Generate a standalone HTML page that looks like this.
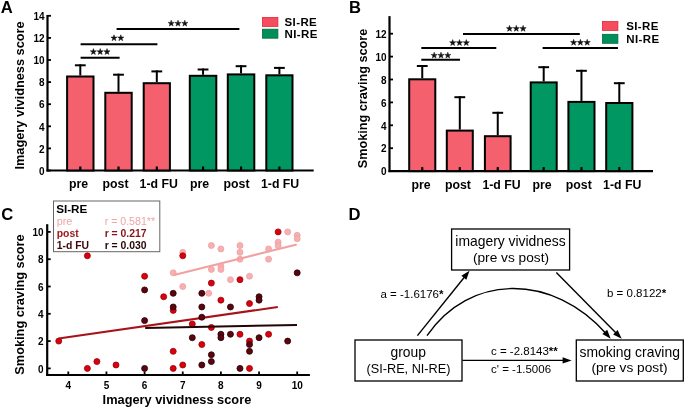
<!DOCTYPE html>
<html><head><meta charset="utf-8"><style>
html,body{margin:0;padding:0;background:#fff;}
body{width:685px;height:407px;overflow:hidden;}
svg{display:block;font-family:"Liberation Sans",sans-serif;will-change:transform;}
</style></head><body>
<svg width="685" height="407" viewBox="0 0 685 407">
<rect width="685" height="407" fill="#fff"/>
<text x="0.70" y="12.80" font-size="16.60" font-weight="bold" text-anchor="start" fill="#000">A</text>
<text transform="translate(23.90,95.50) rotate(-90)" font-size="12.75" font-weight="bold" text-anchor="middle">Imagery vividness score</text>
<line x1="47.50" y1="15.00" x2="47.50" y2="171.50" stroke="#000" stroke-width="2.20"/>
<line x1="47.50" y1="170.50" x2="51.00" y2="170.50" stroke="#000" stroke-width="1.80"/>
<text x="44.60" y="174.70" font-size="10.00" font-weight="bold" text-anchor="end" fill="#000">0</text>
<line x1="47.50" y1="148.40" x2="51.00" y2="148.40" stroke="#000" stroke-width="1.80"/>
<text x="44.60" y="152.60" font-size="10.00" font-weight="bold" text-anchor="end" fill="#000">2</text>
<line x1="47.50" y1="126.30" x2="51.00" y2="126.30" stroke="#000" stroke-width="1.80"/>
<text x="44.60" y="130.50" font-size="10.00" font-weight="bold" text-anchor="end" fill="#000">4</text>
<line x1="47.50" y1="104.20" x2="51.00" y2="104.20" stroke="#000" stroke-width="1.80"/>
<text x="44.60" y="108.40" font-size="10.00" font-weight="bold" text-anchor="end" fill="#000">6</text>
<line x1="47.50" y1="82.10" x2="51.00" y2="82.10" stroke="#000" stroke-width="1.80"/>
<text x="44.60" y="86.30" font-size="10.00" font-weight="bold" text-anchor="end" fill="#000">8</text>
<line x1="47.50" y1="60.00" x2="51.00" y2="60.00" stroke="#000" stroke-width="1.80"/>
<text x="44.60" y="64.20" font-size="10.00" font-weight="bold" text-anchor="end" fill="#000">10</text>
<line x1="47.50" y1="37.90" x2="51.00" y2="37.90" stroke="#000" stroke-width="1.80"/>
<text x="44.60" y="42.10" font-size="10.00" font-weight="bold" text-anchor="end" fill="#000">12</text>
<line x1="47.50" y1="15.80" x2="51.00" y2="15.80" stroke="#000" stroke-width="1.80"/>
<text x="44.60" y="20.00" font-size="10.00" font-weight="bold" text-anchor="end" fill="#000">14</text>
<line x1="46.50" y1="170.50" x2="313.70" y2="170.50" stroke="#000" stroke-width="2.20"/>
<line x1="80.30" y1="75.50" x2="80.30" y2="64.30" stroke="#000" stroke-width="2.00"/><line x1="74.90" y1="65.30" x2="85.70" y2="65.30" stroke="#000" stroke-width="2.00"/><rect x="67.10" y="76.50" width="26.40" height="94.00" fill="#F5606E" stroke="#000" stroke-width="2"/><line x1="80.30" y1="166.50" x2="80.30" y2="170.50" stroke="#000" stroke-width="2.20"/>
<line x1="118.50" y1="91.80" x2="118.50" y2="73.70" stroke="#000" stroke-width="2.00"/><line x1="113.10" y1="74.70" x2="123.90" y2="74.70" stroke="#000" stroke-width="2.00"/><rect x="105.30" y="92.80" width="26.40" height="77.70" fill="#F5606E" stroke="#000" stroke-width="2"/><line x1="118.50" y1="166.50" x2="118.50" y2="170.50" stroke="#000" stroke-width="2.20"/>
<line x1="156.80" y1="82.20" x2="156.80" y2="70.40" stroke="#000" stroke-width="2.00"/><line x1="151.40" y1="71.40" x2="162.20" y2="71.40" stroke="#000" stroke-width="2.00"/><rect x="143.70" y="83.20" width="26.20" height="87.30" fill="#F5606E" stroke="#000" stroke-width="2"/><line x1="156.80" y1="166.50" x2="156.80" y2="170.50" stroke="#000" stroke-width="2.20"/>
<line x1="203.05" y1="74.80" x2="203.05" y2="68.50" stroke="#000" stroke-width="2.00"/><line x1="197.65" y1="69.50" x2="208.45" y2="69.50" stroke="#000" stroke-width="2.00"/><rect x="189.80" y="75.80" width="26.50" height="94.70" fill="#009762" stroke="#000" stroke-width="2"/><line x1="203.05" y1="166.50" x2="203.05" y2="170.50" stroke="#000" stroke-width="2.20"/>
<line x1="241.05" y1="73.40" x2="241.05" y2="65.20" stroke="#000" stroke-width="2.00"/><line x1="235.65" y1="66.20" x2="246.45" y2="66.20" stroke="#000" stroke-width="2.00"/><rect x="227.80" y="74.40" width="26.50" height="96.10" fill="#009762" stroke="#000" stroke-width="2"/><line x1="241.05" y1="166.50" x2="241.05" y2="170.50" stroke="#000" stroke-width="2.20"/>
<line x1="279.40" y1="74.30" x2="279.40" y2="66.90" stroke="#000" stroke-width="2.00"/><line x1="274.00" y1="67.90" x2="284.80" y2="67.90" stroke="#000" stroke-width="2.00"/><rect x="266.30" y="75.30" width="26.20" height="95.20" fill="#009762" stroke="#000" stroke-width="2"/><line x1="279.40" y1="166.50" x2="279.40" y2="170.50" stroke="#000" stroke-width="2.20"/>
<text x="69.00" y="188.40" font-size="12.30" font-weight="bold" text-anchor="start" fill="#000">pre</text>
<text x="102.60" y="188.40" font-size="12.30" font-weight="bold" text-anchor="start" fill="#000">post</text>
<text x="139.60" y="188.40" font-size="12.30" font-weight="bold" text-anchor="start" fill="#000">1-d FU</text>
<text x="190.00" y="188.40" font-size="12.30" font-weight="bold" text-anchor="start" fill="#000">pre</text>
<text x="223.60" y="188.40" font-size="12.30" font-weight="bold" text-anchor="start" fill="#000">post</text>
<text x="261.00" y="188.40" font-size="12.30" font-weight="bold" text-anchor="start" fill="#000">1-d FU</text>
<line x1="116.60" y1="29.00" x2="239.40" y2="29.00" stroke="#000" stroke-width="2.00"/>
<polygon points="171.20,20.20 171.96,22.40 174.29,22.45 172.44,23.85 173.11,26.08 171.20,24.75 169.29,26.08 169.96,23.85 168.11,22.45 170.44,22.40" fill="#111" stroke="#111" stroke-width="0.5" stroke-linejoin="round"/><polygon points="178.00,20.20 178.76,22.40 181.09,22.45 179.24,23.85 179.91,26.08 178.00,24.75 176.09,26.08 176.76,23.85 174.91,22.45 177.24,22.40" fill="#111" stroke="#111" stroke-width="0.5" stroke-linejoin="round"/><polygon points="184.80,20.20 185.56,22.40 187.89,22.45 186.04,23.85 186.71,26.08 184.80,24.75 182.89,26.08 183.56,23.85 181.71,22.45 184.04,22.40" fill="#111" stroke="#111" stroke-width="0.5" stroke-linejoin="round"/>
<line x1="80.60" y1="44.20" x2="157.40" y2="44.20" stroke="#000" stroke-width="2.00"/>
<polygon points="114.00,34.80 114.76,37.00 117.09,37.05 115.24,38.45 115.91,40.68 114.00,39.35 112.09,40.68 112.76,38.45 110.91,37.05 113.24,37.00" fill="#111" stroke="#111" stroke-width="0.5" stroke-linejoin="round"/><polygon points="120.80,34.80 121.56,37.00 123.89,37.05 122.04,38.45 122.71,40.68 120.80,39.35 118.89,40.68 119.56,38.45 117.71,37.05 120.04,37.00" fill="#111" stroke="#111" stroke-width="0.5" stroke-linejoin="round"/>
<line x1="80.60" y1="57.80" x2="119.60" y2="57.80" stroke="#000" stroke-width="2.00"/>
<polygon points="93.40,48.60 94.16,50.80 96.49,50.85 94.64,52.25 95.31,54.48 93.40,53.15 91.49,54.48 92.16,52.25 90.31,50.85 92.64,50.80" fill="#111" stroke="#111" stroke-width="0.5" stroke-linejoin="round"/><polygon points="100.20,48.60 100.96,50.80 103.29,50.85 101.44,52.25 102.11,54.48 100.20,53.15 98.29,54.48 98.96,52.25 97.11,50.85 99.44,50.80" fill="#111" stroke="#111" stroke-width="0.5" stroke-linejoin="round"/><polygon points="107.00,48.60 107.76,50.80 110.09,50.85 108.24,52.25 108.91,54.48 107.00,53.15 105.09,54.48 105.76,52.25 103.91,50.85 106.24,50.80" fill="#111" stroke="#111" stroke-width="0.5" stroke-linejoin="round"/>
<rect x="262.40" y="17.40" width="15.50" height="9.00" fill="#F54C5E" stroke="#E0283E" stroke-width="0.8"/><rect x="262.40" y="29.20" width="15.50" height="9.00" fill="#008F5A" stroke="#006A40" stroke-width="0.8"/><text x="284.50" y="25.80" font-size="11.50" font-weight="bold" text-anchor="start" fill="#000" letter-spacing="0.4">SI-RE</text><text x="284.50" y="38.30" font-size="11.50" font-weight="bold" text-anchor="start" fill="#000" letter-spacing="0.4">NI-RE</text>
<text x="348.90" y="12.80" font-size="16.60" font-weight="bold" text-anchor="start" fill="#000">B</text>
<text transform="translate(366.50,98.50) rotate(-90)" font-size="12.70" font-weight="bold" text-anchor="middle">Smoking craving score</text>
<line x1="389.50" y1="16.10" x2="389.50" y2="172.10" stroke="#000" stroke-width="2.20"/>
<line x1="389.50" y1="171.10" x2="393.00" y2="171.10" stroke="#000" stroke-width="1.80"/>
<text x="386.60" y="175.30" font-size="10.00" font-weight="bold" text-anchor="end" fill="#000">0</text>
<line x1="389.50" y1="148.20" x2="393.00" y2="148.20" stroke="#000" stroke-width="1.80"/>
<text x="386.60" y="152.40" font-size="10.00" font-weight="bold" text-anchor="end" fill="#000">2</text>
<line x1="389.50" y1="125.30" x2="393.00" y2="125.30" stroke="#000" stroke-width="1.80"/>
<text x="386.60" y="129.50" font-size="10.00" font-weight="bold" text-anchor="end" fill="#000">4</text>
<line x1="389.50" y1="102.40" x2="393.00" y2="102.40" stroke="#000" stroke-width="1.80"/>
<text x="386.60" y="106.60" font-size="10.00" font-weight="bold" text-anchor="end" fill="#000">6</text>
<line x1="389.50" y1="79.50" x2="393.00" y2="79.50" stroke="#000" stroke-width="1.80"/>
<text x="386.60" y="83.70" font-size="10.00" font-weight="bold" text-anchor="end" fill="#000">8</text>
<line x1="389.50" y1="56.60" x2="393.00" y2="56.60" stroke="#000" stroke-width="1.80"/>
<text x="386.60" y="60.80" font-size="10.00" font-weight="bold" text-anchor="end" fill="#000">10</text>
<line x1="389.50" y1="33.70" x2="393.00" y2="33.70" stroke="#000" stroke-width="1.80"/>
<text x="386.60" y="37.90" font-size="10.00" font-weight="bold" text-anchor="end" fill="#000">12</text>
<line x1="388.50" y1="171.10" x2="653.00" y2="171.10" stroke="#000" stroke-width="2.20"/>
<line x1="422.25" y1="78.30" x2="422.25" y2="65.00" stroke="#000" stroke-width="2.00"/><line x1="416.85" y1="66.00" x2="427.65" y2="66.00" stroke="#000" stroke-width="2.00"/><rect x="409.20" y="79.30" width="26.10" height="91.80" fill="#F5606E" stroke="#000" stroke-width="2"/><line x1="422.25" y1="167.10" x2="422.25" y2="171.10" stroke="#000" stroke-width="2.20"/>
<line x1="459.80" y1="129.60" x2="459.80" y2="96.20" stroke="#000" stroke-width="2.00"/><line x1="454.40" y1="97.20" x2="465.20" y2="97.20" stroke="#000" stroke-width="2.00"/><rect x="446.80" y="130.60" width="26.00" height="40.50" fill="#F5606E" stroke="#000" stroke-width="2"/><line x1="459.80" y1="167.10" x2="459.80" y2="171.10" stroke="#000" stroke-width="2.20"/>
<line x1="497.75" y1="135.20" x2="497.75" y2="111.80" stroke="#000" stroke-width="2.00"/><line x1="492.35" y1="112.80" x2="503.15" y2="112.80" stroke="#000" stroke-width="2.00"/><rect x="484.90" y="136.20" width="25.70" height="34.90" fill="#F5606E" stroke="#000" stroke-width="2"/><line x1="497.75" y1="167.10" x2="497.75" y2="171.10" stroke="#000" stroke-width="2.20"/>
<line x1="543.70" y1="81.40" x2="543.70" y2="66.20" stroke="#000" stroke-width="2.00"/><line x1="538.30" y1="67.20" x2="549.10" y2="67.20" stroke="#000" stroke-width="2.00"/><rect x="530.70" y="82.40" width="26.00" height="88.70" fill="#009762" stroke="#000" stroke-width="2"/><line x1="543.70" y1="167.10" x2="543.70" y2="171.10" stroke="#000" stroke-width="2.20"/>
<line x1="581.45" y1="100.90" x2="581.45" y2="69.80" stroke="#000" stroke-width="2.00"/><line x1="576.05" y1="70.80" x2="586.85" y2="70.80" stroke="#000" stroke-width="2.00"/><rect x="568.40" y="101.90" width="26.10" height="69.20" fill="#009762" stroke="#000" stroke-width="2"/><line x1="581.45" y1="167.10" x2="581.45" y2="171.10" stroke="#000" stroke-width="2.20"/>
<line x1="619.30" y1="102.00" x2="619.30" y2="82.20" stroke="#000" stroke-width="2.00"/><line x1="613.90" y1="83.20" x2="624.70" y2="83.20" stroke="#000" stroke-width="2.00"/><rect x="606.20" y="103.00" width="26.20" height="68.10" fill="#009762" stroke="#000" stroke-width="2"/><line x1="619.30" y1="167.10" x2="619.30" y2="171.10" stroke="#000" stroke-width="2.20"/>
<text x="411.40" y="188.60" font-size="12.30" font-weight="bold" text-anchor="start" fill="#000">pre</text>
<text x="445.00" y="188.60" font-size="12.30" font-weight="bold" text-anchor="start" fill="#000">post</text>
<text x="482.40" y="188.60" font-size="12.30" font-weight="bold" text-anchor="start" fill="#000">1-d FU</text>
<text x="532.50" y="188.60" font-size="12.30" font-weight="bold" text-anchor="start" fill="#000">pre</text>
<text x="565.80" y="188.60" font-size="12.30" font-weight="bold" text-anchor="start" fill="#000">post</text>
<text x="603.10" y="188.60" font-size="12.30" font-weight="bold" text-anchor="start" fill="#000">1-d FU</text>
<line x1="463.00" y1="34.00" x2="579.80" y2="34.00" stroke="#000" stroke-width="2.00"/>
<polygon points="509.50,25.40 510.26,27.60 512.59,27.65 510.74,29.05 511.41,31.28 509.50,29.95 507.59,31.28 508.26,29.05 506.41,27.65 508.74,27.60" fill="#111" stroke="#111" stroke-width="0.5" stroke-linejoin="round"/><polygon points="516.30,25.40 517.06,27.60 519.39,27.65 517.54,29.05 518.21,31.28 516.30,29.95 514.39,31.28 515.06,29.05 513.21,27.65 515.54,27.60" fill="#111" stroke="#111" stroke-width="0.5" stroke-linejoin="round"/><polygon points="523.10,25.40 523.86,27.60 526.19,27.65 524.34,29.05 525.01,31.28 523.10,29.95 521.19,31.28 521.86,29.05 520.01,27.65 522.34,27.60" fill="#111" stroke="#111" stroke-width="0.5" stroke-linejoin="round"/>
<line x1="421.30" y1="48.00" x2="496.30" y2="48.00" stroke="#000" stroke-width="2.00"/>
<polygon points="452.70,39.60 453.46,41.80 455.79,41.85 453.94,43.25 454.61,45.48 452.70,44.15 450.79,45.48 451.46,43.25 449.61,41.85 451.94,41.80" fill="#111" stroke="#111" stroke-width="0.5" stroke-linejoin="round"/><polygon points="459.50,39.60 460.26,41.80 462.59,41.85 460.74,43.25 461.41,45.48 459.50,44.15 457.59,45.48 458.26,43.25 456.41,41.85 458.74,41.80" fill="#111" stroke="#111" stroke-width="0.5" stroke-linejoin="round"/><polygon points="466.30,39.60 467.06,41.80 469.39,41.85 467.54,43.25 468.21,45.48 466.30,44.15 464.39,45.48 465.06,43.25 463.21,41.85 465.54,41.80" fill="#111" stroke="#111" stroke-width="0.5" stroke-linejoin="round"/>
<line x1="421.30" y1="59.80" x2="460.00" y2="59.80" stroke="#000" stroke-width="2.00"/>
<polygon points="434.20,52.20 434.96,54.40 437.29,54.45 435.44,55.85 436.11,58.08 434.20,56.75 432.29,58.08 432.96,55.85 431.11,54.45 433.44,54.40" fill="#111" stroke="#111" stroke-width="0.5" stroke-linejoin="round"/><polygon points="441.00,52.20 441.76,54.40 444.09,54.45 442.24,55.85 442.91,58.08 441.00,56.75 439.09,58.08 439.76,55.85 437.91,54.45 440.24,54.40" fill="#111" stroke="#111" stroke-width="0.5" stroke-linejoin="round"/><polygon points="447.80,52.20 448.56,54.40 450.89,54.45 449.04,55.85 449.71,58.08 447.80,56.75 445.89,58.08 446.56,55.85 444.71,54.45 447.04,54.40" fill="#111" stroke="#111" stroke-width="0.5" stroke-linejoin="round"/>
<line x1="542.60" y1="48.00" x2="618.00" y2="48.00" stroke="#000" stroke-width="2.00"/>
<polygon points="573.60,39.30 574.36,41.50 576.69,41.55 574.84,42.95 575.51,45.18 573.60,43.85 571.69,45.18 572.36,42.95 570.51,41.55 572.84,41.50" fill="#111" stroke="#111" stroke-width="0.5" stroke-linejoin="round"/><polygon points="580.40,39.30 581.16,41.50 583.49,41.55 581.64,42.95 582.31,45.18 580.40,43.85 578.49,45.18 579.16,42.95 577.31,41.55 579.64,41.50" fill="#111" stroke="#111" stroke-width="0.5" stroke-linejoin="round"/><polygon points="587.20,39.30 587.96,41.50 590.29,41.55 588.44,42.95 589.11,45.18 587.20,43.85 585.29,45.18 585.96,42.95 584.11,41.55 586.44,41.50" fill="#111" stroke="#111" stroke-width="0.5" stroke-linejoin="round"/>
<rect x="602.40" y="21.50" width="15.50" height="9.00" fill="#F54C5E" stroke="#E0283E" stroke-width="0.8"/><rect x="602.40" y="34.30" width="15.50" height="9.00" fill="#008F5A" stroke="#006A40" stroke-width="0.8"/><text x="626.20" y="29.80" font-size="11.50" font-weight="bold" text-anchor="start" fill="#000" letter-spacing="0.4">SI-RE</text><text x="626.20" y="42.50" font-size="11.50" font-weight="bold" text-anchor="start" fill="#000" letter-spacing="0.4">NI-RE</text>
<text x="1.20" y="220.00" font-size="16.60" font-weight="bold" text-anchor="start" fill="#000">C</text>
<text transform="translate(24.00,304.50) rotate(-90)" font-size="12.75" font-weight="bold" text-anchor="middle">Smoking craving score</text>
<line x1="47.20" y1="224.20" x2="47.20" y2="376.00" stroke="#000" stroke-width="2.20"/>
<line x1="47.20" y1="368.40" x2="50.70" y2="368.40" stroke="#000" stroke-width="1.80"/>
<text x="43.60" y="372.60" font-size="10.00" font-weight="bold" text-anchor="end" fill="#000">0</text>
<line x1="47.20" y1="341.10" x2="50.70" y2="341.10" stroke="#000" stroke-width="1.80"/>
<text x="43.60" y="345.30" font-size="10.00" font-weight="bold" text-anchor="end" fill="#000">2</text>
<line x1="47.20" y1="313.80" x2="50.70" y2="313.80" stroke="#000" stroke-width="1.80"/>
<text x="43.60" y="318.00" font-size="10.00" font-weight="bold" text-anchor="end" fill="#000">4</text>
<line x1="47.20" y1="286.50" x2="50.70" y2="286.50" stroke="#000" stroke-width="1.80"/>
<text x="43.60" y="290.70" font-size="10.00" font-weight="bold" text-anchor="end" fill="#000">6</text>
<line x1="47.20" y1="259.20" x2="50.70" y2="259.20" stroke="#000" stroke-width="1.80"/>
<text x="43.60" y="263.40" font-size="10.00" font-weight="bold" text-anchor="end" fill="#000">8</text>
<line x1="47.20" y1="231.90" x2="50.70" y2="231.90" stroke="#000" stroke-width="1.80"/>
<text x="43.60" y="236.10" font-size="10.00" font-weight="bold" text-anchor="end" fill="#000">10</text>
<line x1="46.20" y1="375.00" x2="309.90" y2="375.00" stroke="#000" stroke-width="2.20"/>
<line x1="68.30" y1="371.50" x2="68.30" y2="375.00" stroke="#000" stroke-width="1.80"/>
<text x="68.30" y="388.80" font-size="10.00" font-weight="bold" text-anchor="middle" fill="#000">4</text>
<line x1="106.45" y1="371.50" x2="106.45" y2="375.00" stroke="#000" stroke-width="1.80"/>
<text x="106.45" y="388.80" font-size="10.00" font-weight="bold" text-anchor="middle" fill="#000">5</text>
<line x1="144.60" y1="371.50" x2="144.60" y2="375.00" stroke="#000" stroke-width="1.80"/>
<text x="144.60" y="388.80" font-size="10.00" font-weight="bold" text-anchor="middle" fill="#000">6</text>
<line x1="182.75" y1="371.50" x2="182.75" y2="375.00" stroke="#000" stroke-width="1.80"/>
<text x="182.75" y="388.80" font-size="10.00" font-weight="bold" text-anchor="middle" fill="#000">7</text>
<line x1="220.90" y1="371.50" x2="220.90" y2="375.00" stroke="#000" stroke-width="1.80"/>
<text x="220.90" y="388.80" font-size="10.00" font-weight="bold" text-anchor="middle" fill="#000">8</text>
<line x1="259.05" y1="371.50" x2="259.05" y2="375.00" stroke="#000" stroke-width="1.80"/>
<text x="259.05" y="388.80" font-size="10.00" font-weight="bold" text-anchor="middle" fill="#000">9</text>
<line x1="297.20" y1="371.50" x2="297.20" y2="375.00" stroke="#000" stroke-width="1.80"/>
<text x="297.20" y="388.80" font-size="10.00" font-weight="bold" text-anchor="middle" fill="#000">10</text>
<text x="102.60" y="403.70" font-size="12.80" font-weight="bold" text-anchor="start" fill="#000">Imagery vividness score</text>
<circle cx="182.75" cy="252.37" r="3.0" fill="#F6B0B2" stroke="#EFA0A4" stroke-width="0.8"/><circle cx="211.36" cy="245.55" r="3.0" fill="#F6B0B2" stroke="#EFA0A4" stroke-width="0.8"/><circle cx="220.90" cy="248.96" r="3.0" fill="#F6B0B2" stroke="#EFA0A4" stroke-width="0.8"/><circle cx="173.21" cy="272.85" r="3.0" fill="#F6B0B2" stroke="#EFA0A4" stroke-width="0.8"/><circle cx="211.36" cy="269.44" r="3.0" fill="#F6B0B2" stroke="#EFA0A4" stroke-width="0.8"/><circle cx="220.90" cy="266.02" r="3.0" fill="#F6B0B2" stroke="#EFA0A4" stroke-width="0.8"/><circle cx="220.90" cy="269.44" r="3.0" fill="#F6B0B2" stroke="#EFA0A4" stroke-width="0.8"/><circle cx="230.44" cy="279.67" r="3.0" fill="#F6B0B2" stroke="#EFA0A4" stroke-width="0.8"/><circle cx="182.75" cy="286.50" r="3.0" fill="#F6B0B2" stroke="#EFA0A4" stroke-width="0.8"/><circle cx="208.69" cy="293.32" r="3.0" fill="#F6B0B2" stroke="#EFA0A4" stroke-width="0.8"/><circle cx="287.66" cy="231.90" r="3.0" fill="#F6B0B2" stroke="#EFA0A4" stroke-width="0.8"/><circle cx="297.20" cy="235.31" r="3.0" fill="#F6B0B2" stroke="#EFA0A4" stroke-width="0.8"/><circle cx="297.20" cy="238.72" r="3.0" fill="#F6B0B2" stroke="#EFA0A4" stroke-width="0.8"/><circle cx="278.12" cy="242.14" r="3.0" fill="#F6B0B2" stroke="#EFA0A4" stroke-width="0.8"/><circle cx="278.12" cy="245.55" r="3.0" fill="#F6B0B2" stroke="#EFA0A4" stroke-width="0.8"/><circle cx="268.59" cy="248.96" r="3.0" fill="#F6B0B2" stroke="#EFA0A4" stroke-width="0.8"/><circle cx="268.59" cy="259.20" r="3.0" fill="#F6B0B2" stroke="#EFA0A4" stroke-width="0.8"/><circle cx="239.97" cy="245.55" r="3.0" fill="#F6B0B2" stroke="#EFA0A4" stroke-width="0.8"/><circle cx="239.97" cy="252.37" r="3.0" fill="#F6B0B2" stroke="#EFA0A4" stroke-width="0.8"/><circle cx="239.97" cy="259.20" r="3.0" fill="#F6B0B2" stroke="#EFA0A4" stroke-width="0.8"/><circle cx="249.51" cy="276.26" r="3.0" fill="#F6B0B2" stroke="#EFA0A4" stroke-width="0.8"/>
<line x1="174.00" y1="275.00" x2="296.70" y2="244.50" stroke="#F2A0A0" stroke-width="2.00"/>
<circle cx="58.76" cy="341.10" r="3.0" fill="#D6020F" stroke="#A00008" stroke-width="0.8"/><circle cx="87.38" cy="368.40" r="3.0" fill="#D6020F" stroke="#A00008" stroke-width="0.8"/><circle cx="96.91" cy="361.57" r="3.0" fill="#D6020F" stroke="#A00008" stroke-width="0.8"/><circle cx="115.99" cy="364.99" r="3.0" fill="#D6020F" stroke="#A00008" stroke-width="0.8"/><circle cx="87.38" cy="255.79" r="3.0" fill="#D6020F" stroke="#A00008" stroke-width="0.8"/><circle cx="144.60" cy="276.26" r="3.0" fill="#D6020F" stroke="#A00008" stroke-width="0.8"/><circle cx="163.68" cy="296.74" r="3.0" fill="#D6020F" stroke="#A00008" stroke-width="0.8"/><circle cx="173.21" cy="310.39" r="3.0" fill="#D6020F" stroke="#A00008" stroke-width="0.8"/><circle cx="173.21" cy="351.34" r="3.0" fill="#D6020F" stroke="#A00008" stroke-width="0.8"/><circle cx="173.21" cy="368.40" r="3.0" fill="#D6020F" stroke="#A00008" stroke-width="0.8"/><circle cx="182.75" cy="255.79" r="3.0" fill="#D6020F" stroke="#A00008" stroke-width="0.8"/><circle cx="182.75" cy="364.99" r="3.0" fill="#D6020F" stroke="#A00008" stroke-width="0.8"/><circle cx="192.29" cy="324.04" r="3.0" fill="#D6020F" stroke="#A00008" stroke-width="0.8"/><circle cx="201.82" cy="344.51" r="3.0" fill="#D6020F" stroke="#A00008" stroke-width="0.8"/><circle cx="211.36" cy="283.09" r="3.0" fill="#D6020F" stroke="#A00008" stroke-width="0.8"/><circle cx="211.36" cy="327.45" r="3.0" fill="#D6020F" stroke="#A00008" stroke-width="0.8"/><circle cx="220.90" cy="300.15" r="3.0" fill="#D6020F" stroke="#A00008" stroke-width="0.8"/><circle cx="239.97" cy="279.67" r="3.0" fill="#D6020F" stroke="#A00008" stroke-width="0.8"/><circle cx="239.97" cy="334.27" r="3.0" fill="#D6020F" stroke="#A00008" stroke-width="0.8"/><circle cx="249.51" cy="303.56" r="3.0" fill="#D6020F" stroke="#A00008" stroke-width="0.8"/><circle cx="249.51" cy="341.10" r="3.0" fill="#D6020F" stroke="#A00008" stroke-width="0.8"/><circle cx="249.51" cy="368.40" r="3.0" fill="#D6020F" stroke="#A00008" stroke-width="0.8"/><circle cx="268.59" cy="334.27" r="3.0" fill="#D6020F" stroke="#A00008" stroke-width="0.8"/><circle cx="278.12" cy="231.90" r="3.0" fill="#D6020F" stroke="#A00008" stroke-width="0.8"/>
<line x1="58.60" y1="338.50" x2="277.80" y2="307.00" stroke="#A8121A" stroke-width="2.00"/>
<circle cx="144.60" cy="289.91" r="3.0" fill="#5E0410" stroke="#220000" stroke-width="0.8"/><circle cx="144.60" cy="320.62" r="3.0" fill="#5E0410" stroke="#220000" stroke-width="0.8"/><circle cx="144.60" cy="368.40" r="3.0" fill="#5E0410" stroke="#220000" stroke-width="0.8"/><circle cx="173.21" cy="293.32" r="3.0" fill="#5E0410" stroke="#220000" stroke-width="0.8"/><circle cx="173.21" cy="306.97" r="3.0" fill="#5E0410" stroke="#220000" stroke-width="0.8"/><circle cx="192.29" cy="337.69" r="3.0" fill="#5E0410" stroke="#220000" stroke-width="0.8"/><circle cx="201.82" cy="293.32" r="3.0" fill="#5E0410" stroke="#220000" stroke-width="0.8"/><circle cx="201.82" cy="306.97" r="3.0" fill="#5E0410" stroke="#220000" stroke-width="0.8"/><circle cx="201.82" cy="317.21" r="3.0" fill="#5E0410" stroke="#220000" stroke-width="0.8"/><circle cx="201.82" cy="364.99" r="3.0" fill="#5E0410" stroke="#220000" stroke-width="0.8"/><circle cx="211.36" cy="354.75" r="3.0" fill="#5E0410" stroke="#220000" stroke-width="0.8"/><circle cx="211.36" cy="361.57" r="3.0" fill="#5E0410" stroke="#220000" stroke-width="0.8"/><circle cx="220.90" cy="334.27" r="3.0" fill="#5E0410" stroke="#220000" stroke-width="0.8"/><circle cx="220.90" cy="337.69" r="3.0" fill="#5E0410" stroke="#220000" stroke-width="0.8"/><circle cx="230.44" cy="306.97" r="3.0" fill="#5E0410" stroke="#220000" stroke-width="0.8"/><circle cx="230.44" cy="334.27" r="3.0" fill="#5E0410" stroke="#220000" stroke-width="0.8"/><circle cx="239.97" cy="368.40" r="3.0" fill="#5E0410" stroke="#220000" stroke-width="0.8"/><circle cx="249.51" cy="344.51" r="3.0" fill="#5E0410" stroke="#220000" stroke-width="0.8"/><circle cx="249.51" cy="351.34" r="3.0" fill="#5E0410" stroke="#220000" stroke-width="0.8"/><circle cx="259.05" cy="296.74" r="3.0" fill="#5E0410" stroke="#220000" stroke-width="0.8"/><circle cx="259.05" cy="300.15" r="3.0" fill="#5E0410" stroke="#220000" stroke-width="0.8"/><circle cx="259.05" cy="337.69" r="3.0" fill="#5E0410" stroke="#220000" stroke-width="0.8"/><circle cx="287.66" cy="341.10" r="3.0" fill="#5E0410" stroke="#220000" stroke-width="0.8"/><circle cx="297.20" cy="272.85" r="3.0" fill="#5E0410" stroke="#220000" stroke-width="0.8"/>
<line x1="145.20" y1="328.00" x2="297.00" y2="325.00" stroke="#220404" stroke-width="2.00"/>
<rect x="53.5" y="201" width="106.3" height="50.7" fill="#fff" stroke="#666" stroke-width="1"/>
<text x="56.20" y="213.10" font-size="11.70" font-weight="bold" text-anchor="start" fill="#000">SI-RE</text>
<text x="56.70" y="224.70" font-size="10.80" font-weight="normal" text-anchor="start" fill="#EFA5A5">pre</text>
<text x="104.70" y="224.70" font-size="10.60" font-weight="normal" text-anchor="start" fill="#EFA5A5">r = 0.581**</text>
<text x="56.70" y="236.70" font-size="10.40" font-weight="bold" text-anchor="start" fill="#9E1A20">post</text>
<text x="104.70" y="236.70" font-size="10.40" font-weight="bold" text-anchor="start" fill="#8A1218">r = 0.217</text>
<text x="56.70" y="249.00" font-size="10.40" font-weight="bold" text-anchor="start" fill="#3A0808">1-d FU</text>
<text x="104.70" y="249.00" font-size="10.40" font-weight="bold" text-anchor="start" fill="#2A0606">r = 0.030</text>
<text x="348.60" y="219.80" font-size="16.60" font-weight="bold" text-anchor="start" fill="#000">D</text>
<rect x="451.6" y="229" width="118" height="41" fill="none" stroke="#000" stroke-width="1.3"/>
<text x="510.50" y="245.60" font-size="13.90" font-weight="normal" text-anchor="middle" fill="#000">imagery vividness</text>
<text x="511.00" y="262.00" font-size="13.70" font-weight="normal" text-anchor="middle" fill="#000">(pre vs post)</text>
<rect x="355" y="340" width="107" height="41" fill="none" stroke="#000" stroke-width="1.3"/>
<text x="408.20" y="356.50" font-size="13.85" font-weight="normal" text-anchor="middle" fill="#000">group</text>
<text x="408.50" y="372.60" font-size="12.70" font-weight="normal" text-anchor="middle" fill="#000">(SI-RE, NI-RE)</text>
<rect x="576.3" y="340" width="107" height="41" fill="none" stroke="#000" stroke-width="1.3"/>
<text x="629.70" y="357.10" font-size="13.90" font-weight="normal" text-anchor="middle" fill="#000">smoking craving</text>
<text x="629.50" y="372.10" font-size="13.70" font-weight="normal" text-anchor="middle" fill="#000">(pre vs post)</text>
<line x1="417.40" y1="335.60" x2="465.55" y2="275.71" stroke="#000" stroke-width="1.40"/><polygon points="469.50,270.80 466.35,279.82 461.37,275.81" fill="#000"/>
<line x1="556.30" y1="272.60" x2="617.27" y2="334.22" stroke="#000" stroke-width="1.40"/><polygon points="621.70,338.70 613.10,334.55 617.64,330.05" fill="#000"/>
<line x1="462.40" y1="360.40" x2="565.30" y2="360.40" stroke="#000" stroke-width="1.40"/><polygon points="571.60,360.40 562.60,363.60 562.60,357.20" fill="#000"/>
<path d="M427.00,335.60 C469.20,273.50 552.70,272.50 607.20,334.70" fill="none" stroke="#000" stroke-width="1.4"/>
<polygon points="610.70,338.70 602.36,334.04 607.18,329.82" fill="#000"/>
<text x="380.50" y="297.90" font-size="11.50" font-weight="normal" text-anchor="start" fill="#000">a = -1.6176<tspan font-weight="bold">*</tspan></text>
<text x="607.00" y="297.30" font-size="11.50" font-weight="normal" text-anchor="start" fill="#000">b = 0.8122<tspan font-weight="bold">*</tspan></text>
<text x="491.00" y="355.00" font-size="11.50" font-weight="normal" text-anchor="start" fill="#000">c = -2.8143<tspan font-weight="bold">**</tspan></text>
<text x="491.00" y="373.00" font-size="11.50" font-weight="normal" text-anchor="start" fill="#000">c' = -1.5006</text>
</svg>
</body></html>
